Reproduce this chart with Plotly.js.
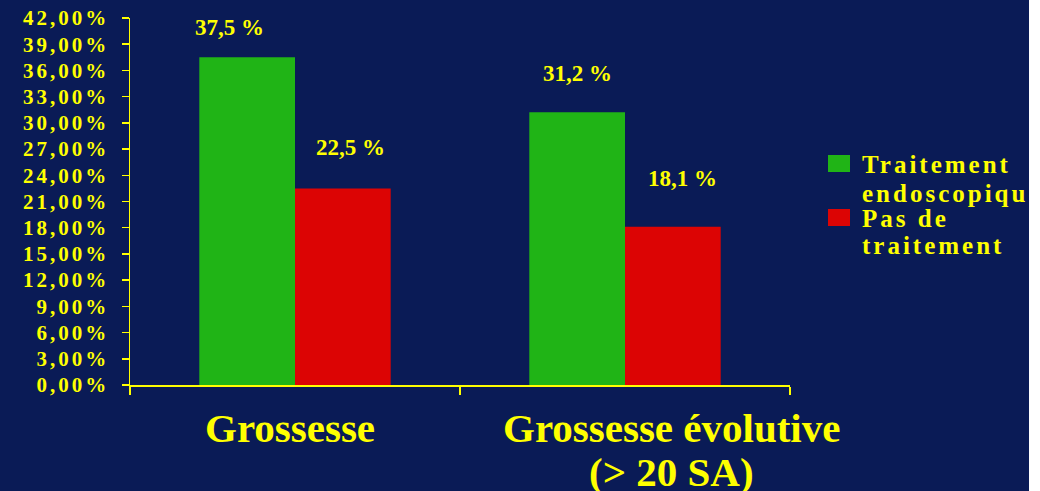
<!DOCTYPE html>
<html><head><meta charset="utf-8">
<script src="https://cdn.plot.ly/plotly-3.0.1.min.js"></script>
<style>html,body{margin:0;padding:0;background:#FFFFFF;}</style>
</head><body>
<div id="chart" style="width:1029px;height:491px;"></div>
<script>
const categories = ["Grossesse", "Grossesse évolutive<br>(> 20 SA)"];
const seriesNames = ["Traitement endoscopique", "Pas de traitement"];
const legendLines = [["Traitement", "endoscopique"], ["Pas de", "traitement"]];
const treated = [37.5, 31.2];
const untreated = [22.5, 18.1];
const treatedLabels = ["37,5 %", "31,2 %"];
const untreatedLabels = ["22,5 %", "18,1 %"];
const yTicks = [0, 3, 6, 9, 12, 15, 18, 21, 24, 27, 30, 33, 36, 39, 42];
const yTickText = ["0,00%", "3,00%", "6,00%", "9,00%", "12,00%", "15,00%", "18,00%", "21,00%", "24,00%", "27,00%", "30,00%", "33,00%", "36,00%", "39,00%", "42,00%"];
const colors = ["#20B416", "#DC0404"];

const yellow = "#FFFF00";
const bg = "#0A1B56";
const bargap = 0.42;
const half = (1 - bargap) / 4;
const serif = "Liberation Serif, Times New Roman, serif";

const traces = [
  {type: "bar", x: categories, y: treated, name: seriesNames[0], marker: {color: colors[0]}, hoverinfo: "none"},
  {type: "bar", x: categories, y: untreated, name: seriesNames[1], marker: {color: colors[1]}, hoverinfo: "none"}
];

const labelFont = {family: serif, size: 23, color: yellow, weight: "bold"};
const annotations = [];
const tShift = [[-18, 30], [0, 39]];
const uShift = [[8, 41], [10, 48]];
treated.forEach((v, i) => annotations.push({x: i - half, y: v, xref: "x", yref: "y", text: "<b>" + treatedLabels[i] + "</b>", showarrow: false, font: labelFont, xshift: tShift[i][0], yshift: tShift[i][1]}));
untreated.forEach((v, i) => annotations.push({x: i + half, y: v, xref: "x", yref: "y", text: "<b>" + untreatedLabels[i] + "</b>", showarrow: false, font: labelFont, xshift: uShift[i][0], yshift: uShift[i][1]}));

// category labels (placed as annotations so each can sit where the reference has it)
const catFont = {family: serif, size: 41, color: yellow, weight: "bold"};
const catXShift = [-5, 46];
const catLineY = [-0.117, -0.238];
categories.forEach((c, i) => {
  c.split("<br>").forEach((line, j) => annotations.push({x: i, xref: "x", y: catLineY[j], yref: "paper", yanchor: "middle", showarrow: false, text: "<b>" + line + "</b>", font: catFont, xshift: catXShift[i]}));
});

// manual legend (larger swatches than Plotly's built-in legend)
const legFont = {family: serif, size: 25, color: yellow, weight: "bold"};
const legLineY = [[0.600, 0.522], [0.455, 0.381]];
const legBoxY = [[0.5804, 0.6267], [0.4332, 0.4796]];
const shapes = [];
legendLines.forEach((lines, i) => {
  shapes.push({type: "rect", xref: "paper", yref: "paper", x0: 1.0576, x1: 1.0909, y0: legBoxY[i][0], y1: legBoxY[i][1], fillcolor: colors[i], line: {width: 0}});
  lines.forEach((t, j) => annotations.push({xref: "paper", yref: "paper", x: 1.106, y: legLineY[i][j], xanchor: "left", yanchor: "middle", showarrow: false, text: '<span style="letter-spacing:3px"><b>' + t + '</b></span>', font: legFont}));
});

const layout = {
  width: 1029, height: 491,
  paper_bgcolor: bg, plot_bgcolor: bg,
  margin: {l: 130, r: 239, t: 18, b: 106},
  barmode: "group", bargap: bargap, bargroupgap: 0,
  showlegend: false,
  xaxis: {
    type: "category", range: [-0.5, categories.length - 0.5], autorange: false,
    showline: true, linecolor: yellow, linewidth: 1.5,
    ticks: "outside", tickson: "boundaries", tickcolor: yellow, ticklen: 8, tickwidth: 1.5,
    showgrid: false, zeroline: false, showticklabels: false,
    fixedrange: true
  },
  yaxis: {
    range: [0, 42], autorange: false, tickmode: "array", tickvals: yTicks,
    ticktext: yTickText.map(t => '<span style="letter-spacing:3px">' + t + '</span>'),
    showline: true, linecolor: yellow, linewidth: 1.5,
    ticks: "outside", tickcolor: yellow, ticklen: 7, tickwidth: 1.5,
    showgrid: false, zeroline: false, ticklabelstandoff: 8,
    tickfont: {family: serif, size: 21, color: yellow, weight: "bold"},
    fixedrange: true
  },
  shapes: shapes,
  annotations: annotations
};
Plotly.newPlot("chart", traces, layout, {displayModeBar: false, staticPlot: true});
</script>
</body></html>
